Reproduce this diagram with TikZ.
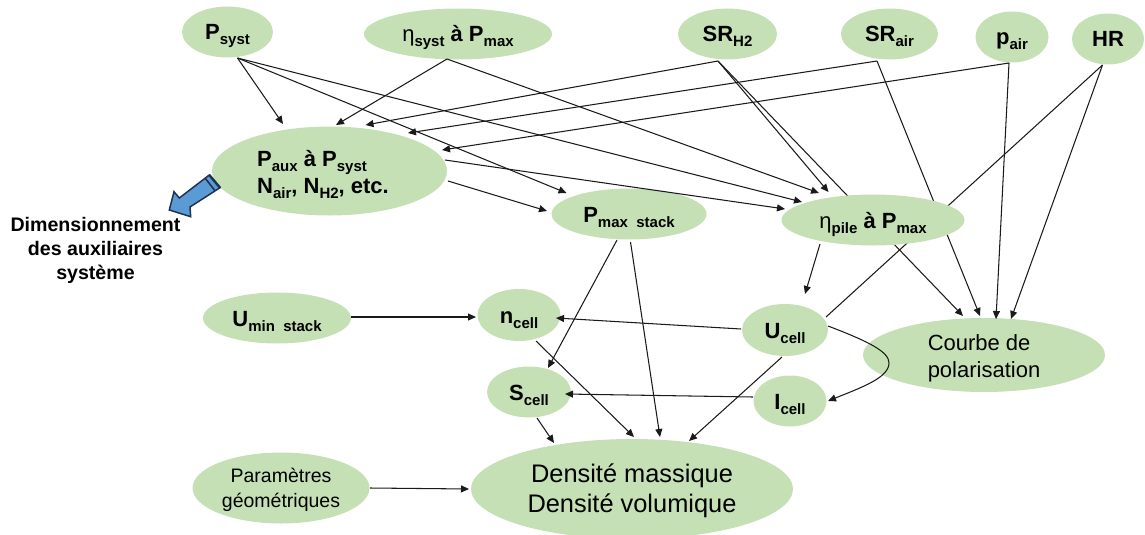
\documentclass[tikz,border=0pt]{standalone}
\usepackage{fontspec}
\setmainfont{Liberation Sans}
\usetikzlibrary{shapes.geometric,arrows.meta,calc,backgrounds}
\newcommand{\sbs}[1]{\raisebox{-5pt}{\fontsize{15}{15}\selectfont #1}}
\newcommand{\etaa}{{\fontseries{m}\selectfont η}}
\tikzset{
  elli/.style={ellipse,fill=nodegreen,inner sep=0pt,text=black},
  bt/.style={font=\fontsize{22}{27}\selectfont\bfseries,text height=16pt,text depth=0pt},
  arr/.style={-{Triangle[length=8pt,width=7pt]},line width=1.05pt,draw=linedark},
  plain/.style={line width=1.05pt,draw=linedark}
}
\definecolor{nodegreen}{HTML}{C5E0B4}
\definecolor{linedark}{HTML}{1A1A1A}
\definecolor{bluearrow}{HTML}{5B9BD5}
\definecolor{blueedge}{HTML}{1F3350}
\begin{document}
\begin{tikzpicture}[x=1pt,y=-1pt]
\useasboundingbox (0,0) rectangle (1145,535);
\node[elli,bt,minimum width=91pt,minimum height=51pt] (psyst) at (227.5,32) {P\sbs{syst}};
\node[elli,bt,minimum width=188pt,minimum height=51pt] (etas) at (458,34) {\etaa\sbs{syst} à P\sbs{max}};
\node[elli,bt,minimum width=99pt,minimum height=51pt] (srh) at (727.5,34) {SR\sbs{H2}};
\node[elli,bt,minimum width=97pt,minimum height=51pt] (srair) at (889.5,34) {SR\sbs{air}};
\node[elli,bt,minimum width=73pt,minimum height=51pt] (pair) at (1012,37) {p\sbs{air}};
\node[elli,bt,minimum width=72pt,minimum height=51pt] (hr) at (1108,39) {HR};
\node[elli,bt,align=left,text height=44pt,text depth=0pt,minimum width=235pt,minimum height=89pt] (paux) at (329.5,171) {P\sbs{aux}\ à P\sbs{syst}\\N\sbs{air},\ N\sbs{H2}, etc.\hspace*{13pt}};
\node[elli,bt,minimum width=155pt,minimum height=51pt] (pmax) at (629,214) {P\sbs{max\ \ stack}};
\node[elli,bt,minimum width=183pt,minimum height=51pt] (etap) at (873,220) {\etaa\sbs{pile} à P\sbs{max}};
\node[elli,bt,minimum width=148pt,minimum height=51pt] (umin) at (277,318) {U\sbs{min\ \ stack}};
\node[elli,bt,minimum width=83pt,minimum height=52pt] (ncell) at (519,315) {n\sbs{cell}};
\node[elli,bt,minimum width=84pt,minimum height=51pt] (scell) at (529,392) {S\sbs{cell}};
\node[elli,bt,minimum width=86pt,minimum height=52pt] (ucell) at (785,330) {U\sbs{cell}};
\node[elli,bt,minimum width=73pt,minimum height=51pt] (icell) at (790,401) {I\sbs{cell}};
\node[elli,align=center,font=\fontsize{19.5}{25}\selectfont,text height=38pt,text depth=0pt,minimum width=177pt,minimum height=71pt] (param) at (281,488) {Paramètres\\géométriques};
\node[elli,align=center,font=\fontsize{25.4}{30}\selectfont,text height=46pt,text depth=0pt,minimum width=322pt,minimum height=100pt] (dens) at (632,489) {Densité massique\\Densité volumique};
\node[elli,align=left,font=\fontsize{22}{27}\selectfont,text height=44pt,text depth=0pt,minimum width=242pt,minimum height=74pt] (courbe) at (984,355) {Courbe de\\polarisation};
\node[align=center,text=black,inner sep=0pt,font=\fontsize{19.6}{24}\selectfont\bfseries] (dim) at (95.5,250) {Dimensionnement\\des auxiliaires\\système};
% connectors passing behind the ellipses
\begin{scope}[on background layer]
\draw[arr] ($(srh)+(-9.5,27)$) -- ($(courbe)+(-21,-39)$);
\draw[arr] ($(srair)+(-12.5,27)$) -- ($(courbe)+(-4,-39)$);
\draw[plain] ($(hr)+(-5.5,26)$) -- ($(ucell)+(41,-13)$);
\end{scope}
% connectors
\draw[arr] ($(psyst)+(10,26)$) -- ($(paux)+(-46.5,-47)$);
\draw[arr] ($(psyst)+(10,26)$) -- ($(pmax)+(-62.5,-21)$);
\draw[arr] ($(psyst)+(10,26)$) -- ($(etap)+(-71,-18)$);
\draw[arr] ($(etas)+(-11,25)$) -- ($(paux)+(6.5,-46)$);
\draw[arr] ($(etas)+(-11,25)$) -- ($(etap)+(-54,-27)$);
\draw[arr] ($(paux)+(115.5,-11)$) -- ($(etap)+(-88,-11)$);
\draw[arr] ($(paux)+(118.5,10)$) -- ($(pmax)+(-82,-3)$);
\draw[arr] ($(srh)+(-9.5,27)$) -- ($(paux)+(36,-46)$);
\draw[arr] ($(srh)+(-9.5,27)$) -- ($(etap)+(-44.5,-28)$);
\draw[arr] ($(srair)+(-12.5,27)$) -- ($(paux)+(78.5,-38)$);
\draw[arr] ($(pair)+(-3,26)$) -- ($(paux)+(112.5,-21)$);
\draw[arr] ($(pair)+(-3,26)$) -- ($(courbe)+(12,-36)$);
\draw[arr] ($(hr)+(-5.5,26)$) -- ($(courbe)+(27,-36)$);
\draw[arr] ($(etap)+(-53,24)$) -- ($(ucell)+(20,-36)$);
\draw[arr] ($(pmax)+(-12,26)$) -- ($(scell)+(19,-24)$);
\draw[arr] ($(pmax)+(1.5,28)$) -- ($(dens)+(28,-52)$);
\draw[arr] ($(umin)+(74,-1)$) -- ($(ncell)+(-43,2)$);
\draw[arr] ($(ucell)+(-44,-1)$) -- ($(ncell)+(37,3)$);
\draw[arr] ($(icell)+(-37,-4)$) -- ($(scell)+(36,2)$);
\draw[arr] ($(ncell)+(17,26)$) -- ($(dens)+(2,-52)$);
\draw[arr] ($(scell)+(8,26)$) -- ($(dens)+(-78,-46)$);
\draw[arr] ($(ucell)+(-3,27)$) -- ($(dens)+(57,-48)$);
\draw[arr] ($(param)+(89,0)$) -- ($(dens)+(-163,0)$);
\draw[arr] ($(ucell)+(43,-4)$) .. controls (870,342) and (889,352) .. (889,363) .. controls (889,378) and (860,388) .. ($(icell)+(38,0)$);
% blue output arrow
\draw[fill=bluearrow,draw=blueedge,line width=1.5pt,line join=miter] (209.3,175) -- (220,187.7) -- (190,207) -- (190.7,216.7) -- (169.3,210) -- (174,191.7) -- (179.3,198) -- cycle;
\draw[draw=blueedge,line width=1.6pt] (205,178) -- (215,190.7);
\draw[draw=blueedge,line width=2.4pt] (209.3,175) -- (220,187.7);
\end{tikzpicture}
\end{document}
